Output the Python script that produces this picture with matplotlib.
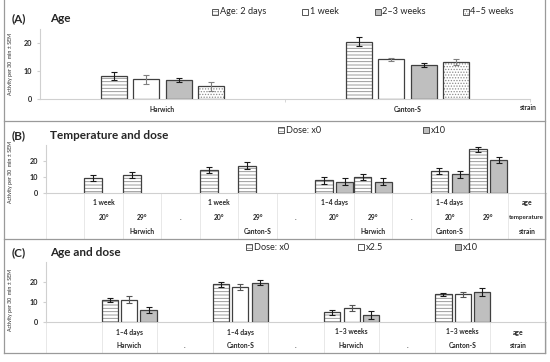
import matplotlib
matplotlib.use('Agg')
import matplotlib.pyplot as plt
from matplotlib.patches import Rectangle
import matplotlib.transforms as mtrans
import numpy as np

plt.rcParams['font.family'] = ['Lato', 'DejaVu Sans']
plt.rcParams['hatch.linewidth'] = 0.6

# ---------------- data ----------------
# Panel A: age
A_strains = ['Harwich', 'Canton-S']
A_series = ['Age: 2 days', '1 week', '2–3 weeks', '4–5 weeks']
A_2days = [8.2, 20.5]
A_2days_err = [1.5, 1.5]
A_1week = [7.0, 14.2]
A_1week_err = [1.7, 0.6]
A_23weeks = [6.7, 12.1]
A_23weeks_err = [0.8, 0.8]
A_45weeks = [4.6, 13.2]
A_45weeks_err = [1.6, 1.2]

# Panel B: temperature and dose
B_series = ['Dose: x0', 'x10']
B_age_labels = ['', '1 week', '', '', '1 week', '', '', '1–4 days', '', '', '1–4 days', '', 'age']
B_temp_labels = ['', '20°', '29°', '.', '20°', '29°', '.', '20°', '29°', '.', '20°', '29°', 'temperature']
B_strain_labels = ['', '', 'Harwich', '', '', 'Canton-S', '', '', 'Harwich', '', 'Canton-S', '', 'strain']
B_x0_slots = [1, 2, 4, 5, 7, 8, 10, 11]
B_x0 = [9.5, 11.4, 14.5, 17.3, 8.1, 10.0, 13.9, 27.5]
B_x0_err = [1.8, 1.8, 2.0, 2.0, 2.0, 1.8, 1.8, 1.7]
B_x10_slots = [7, 8, 10, 11]
B_x10 = [7.3, 7.1, 11.8, 20.8]
B_x10_err = [2.0, 2.2, 2.0, 1.8]

# Panel C: age and dose
C_series = ['Dose: x0', 'x2.5', 'x10']
C_age_labels = ['', '1–4 days', '', '1–4 days', '', '1–3 weeks', '', '1–3 weeks', 'age']
C_strain_labels = ['', 'Harwich', '.', 'Canton-S', '.', 'Harwich', '.', 'Canton-S', 'strain']
C_slots = [1, 3, 5, 7]
C_x0 = [11.2, 19.0, 5.0, 14.0]
C_x0_err = [1.2, 1.1, 1.2, 0.8]
C_x25 = [11.3, 17.8, 7.2, 14.0]
C_x25_err = [1.7, 1.4, 1.5, 1.4]
C_x10 = [6.2, 19.8, 3.7, 15.0]
C_x10_err = [1.7, 1.3, 2.2, 2.0]

Y_TICKS = [0, 10, 20]
Y_LABEL = 'Activity per 30  min ± SEM'

# ---------------- helpers ----------------
W, H = 550, 362
fig = plt.figure(figsize=(5.5, 3.62), dpi=100)


def rect(l, t, r, b):
    return [l / W, 1 - b / H, (r - l) / W, (b - t) / H]


def fx(x):
    return x / W


def fy(y):
    return 1 - y / H


EDGE = '#404040'
HATCHC = '#8c8c8c'
GRAYF = '#bfbfbf'
AXC = '#d0d0d0'
TXT = '#262626'
GRIDC = '#e4e4e4'
CATFS = 4.9

styles = {
    'hlines': dict(face='white', hatch='-----'),
    'white': dict(face='white', hatch=None),
    'gray': dict(face=GRAYF, hatch=None),
    'dots': dict(face='white', hatch='......'),
}


def draw_bars(ax, x, h, err, width, style, ecolor):
    st = styles[style]
    ax.bar(x, h, width, color=st['face'],
           edgecolor=HATCHC if st['hatch'] else 'none',
           hatch=st['hatch'], linewidth=0, zorder=2)
    ax.bar(x, h, width, fill=False, edgecolor=EDGE, linewidth=0.9, zorder=3)
    ax.errorbar(x, h, yerr=err, fmt='none', ecolor=ecolor, elinewidth=0.8,
                capsize=2.2, capthick=0.8, zorder=4)


def legend_item(x, y, style, label):
    st = styles[style]
    fig.add_artist(Rectangle((fx(x), fy(y + 3)), 6 / W, 6 / H,
                             transform=fig.transFigure, facecolor=st['face'],
                             edgecolor=HATCHC if st['hatch'] else 'none',
                             hatch=st['hatch'], linewidth=0))
    fig.add_artist(Rectangle((fx(x), fy(y + 3)), 6 / W, 6 / H,
                             transform=fig.transFigure, fill=False,
                             edgecolor='#555555', linewidth=0.7))
    fig.text(fx(x + 7.5), fy(y), label, fontsize=6.6, color=TXT,
             ha='left', va='center')


def style_axes(ax):
    for s in ['top', 'right']:
        ax.spines[s].set_visible(False)
    ax.spines['left'].set_color(AXC)
    ax.spines['bottom'].set_color(AXC)
    ax.spines['left'].set_linewidth(0.8)
    ax.spines['bottom'].set_linewidth(0.8)
    ax.set_yticks(Y_TICKS)
    ax.set_yticklabels([str(v) for v in Y_TICKS], fontsize=5.2,
                       fontweight='bold', color=TXT)
    ax.tick_params(axis='y', length=2, color=AXC, pad=4)
    ax.set_facecolor('none')


def panel_title(y, letter, title):
    fig.text(fx(12), fy(y), letter, fontsize=8.5, fontweight='bold',
             color=TXT, ha='left', va='center')
    fig.text(fx(50), fy(y), title, fontsize=8.5, fontweight='bold',
             color=TXT, ha='left', va='center')


# ---------------- panel frames ----------------
FRAMEC = '#9a9a9a'
for (x0, y0, x1, y1) in [(4, 0, 4, 353), (545, 0, 545, 353),
                         (4, 121, 545, 121), (4, 239, 545, 239),
                         (4, 353, 545, 353)]:
    fig.add_artist(plt.Line2D([fx(x0), fx(x1)], [fy(y0), fy(y1)],
                              transform=fig.transFigure, color=FRAMEC,
                              linewidth=0.9))

# ---------------- Panel A ----------------
axA = fig.add_axes(rect(40, 29, 530, 99))
style_axes(axA)
axA.set_xlim(-0.5, 1.5)
axA.set_ylim(0, 25)
xa = np.arange(len(A_strains))
stepA = 0.132
wA = 0.106
draw_bars(axA, xa - 1.5 * stepA, A_2days, A_2days_err, wA, 'hlines', '#1a1a1a')
draw_bars(axA, xa - 0.5 * stepA, A_1week, A_1week_err, wA, 'white', '#808080')
draw_bars(axA, xa + 0.5 * stepA, A_23weeks, A_23weeks_err, wA, 'gray', '#1a1a1a')
draw_bars(axA, xa + 1.5 * stepA, A_45weeks, A_45weeks_err, wA, 'dots', '#808080')
axA.set_xticks(xa)
axA.set_xticklabels(A_strains, fontsize=CATFS, fontweight='bold', color=TXT)
axA.tick_params(axis='x', length=0, pad=5)
axA.set_xticks([0.5, 1.5], minor=True)
axA.tick_params(axis='x', which='minor', length=2.5, color=AXC)
fig.text(fx(528), fy(108), 'strain', fontsize=CATFS, fontweight='bold',
         color=TXT, ha='center', va='center')
fig.text(fx(11), fy(64), Y_LABEL, rotation=90, fontsize=3.8, color=TXT,
         ha='center', va='center')
panel_title(19, '(A)', 'Age')
for xl, st, lab in zip([212, 302, 375, 463], ['hlines', 'white', 'gray', 'dots'], A_series):
    legend_item(xl, 12, st, lab)

# ---------------- Panel B ----------------
axB = fig.add_axes(rect(46, 145.3, 546, 193.3))
style_axes(axB)
nB = len(B_temp_labels)
axB.set_xlim(-0.5, nB - 0.5)
axB.set_ylim(0, 30)
axB.set_xticks([])
draw_bars(axB, np.array(B_x0_slots) - 0.27, B_x0, B_x0_err, 0.46, 'hlines', '#1a1a1a')
draw_bars(axB, np.array(B_x10_slots) + 0.27, B_x10, B_x10_err, 0.44, 'gray', '#1a1a1a')
transB = mtrans.blended_transform_factory(axB.transData, fig.transFigure)
for b in np.arange(-0.5, nB, 1.0):
    axB.plot([b, b], [fy(193.3), fy(239)], transform=transB, color=GRIDC,
             linewidth=0.6, clip_on=False, zorder=0)
for i in range(nB):
    for yrow, labs in [(203, B_age_labels), (217, B_temp_labels), (231, B_strain_labels)]:
        if labs[i]:
            fs = CATFS if len(labs[i]) < 10 else 4.5
            axB.text(i, fy(yrow), labs[i], transform=transB, fontsize=fs,
                     fontweight='bold', color=TXT, ha='center', va='center')
fig.text(fx(11), fy(172), Y_LABEL, rotation=90, fontsize=3.8, color=TXT,
         ha='center', va='center')
panel_title(136, '(B)', 'Temperature and dose')
for xl, st, lab in zip([278, 423], ['hlines', 'gray'], B_series):
    legend_item(xl, 130, st, lab)

# ---------------- Panel C ----------------
axC = fig.add_axes(rect(46, 262.3, 546, 322.3))
style_axes(axC)
nC = len(C_strain_labels)
axC.set_xlim(-0.5, nC - 0.5)
axC.set_ylim(0, 30)
axC.set_xticks([])
cs = np.array(C_slots)
draw_bars(axC, cs - 0.345, C_x0, C_x0_err, 0.29, 'hlines', '#1a1a1a')
draw_bars(axC, cs, C_x25, C_x25_err, 0.29, 'white', '#555555')
draw_bars(axC, cs + 0.345, C_x10, C_x10_err, 0.29, 'gray', '#1a1a1a')
transC = mtrans.blended_transform_factory(axC.transData, fig.transFigure)
for b in np.arange(-0.5, nC, 1.0):
    axC.plot([b, b], [fy(322.3), fy(353)], transform=transC, color=GRIDC,
             linewidth=0.6, clip_on=False, zorder=0)
for i in range(nC):
    for yrow, labs in [(332, C_age_labels), (346, C_strain_labels)]:
        if labs[i]:
            axC.text(i, fy(yrow), labs[i], transform=transC, fontsize=CATFS,
                     fontweight='bold', color=TXT, ha='center', va='center')
fig.text(fx(11), fy(300), Y_LABEL, rotation=90, fontsize=3.8, color=TXT,
         ha='center', va='center')
panel_title(253, '(C)', 'Age and dose')
for xl, st, lab in zip([246, 358, 455], ['hlines', 'white', 'gray'], C_series):
    legend_item(xl, 247, st, lab)

fig.savefig('out.png', dpi=100, facecolor='white')
